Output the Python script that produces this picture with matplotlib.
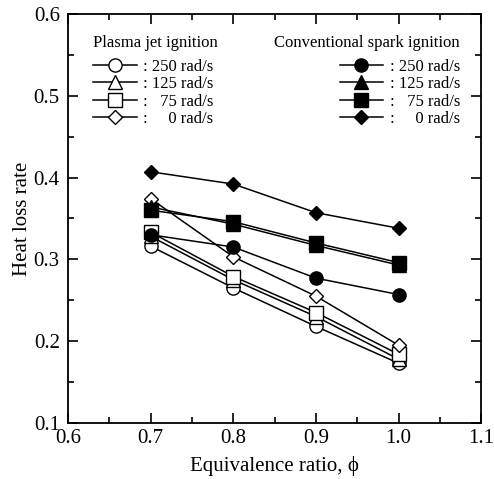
import matplotlib.pyplot as plt
import numpy as np

# equivalence ratio values and heat loss rates
phi = [0.7, 0.8, 0.9, 1.0]

# plasma jet ignition (open markers)
pj_250 = [0.316, 0.265, 0.218, 0.173]
pj_125 = [0.328, 0.275, 0.230, 0.178]
pj_75 = [0.333, 0.279, 0.235, 0.184]
pj_0 = [0.374, 0.303, 0.255, 0.195]

# conventional spark ignition (filled markers)
cs_250 = [0.330, 0.315, 0.277, 0.257]
cs_125 = [0.364, 0.343, 0.317, 0.293]
cs_75 = [0.360, 0.346, 0.320, 0.296]
cs_0 = [0.407, 0.392, 0.357, 0.338]

labels = [': 250 rad/s', ': 125 rad/s', ':   75 rad/s', ':     0 rad/s']
markers = ['o', '^', 's', 'D']

plt.rcParams['font.family'] = ['Liberation Serif', 'DejaVu Serif']

fig = plt.figure(figsize=(4.94, 4.79), dpi=100)
ax = fig.add_axes([0.138, 0.117, 0.836, 0.854])

pj_lines = []
for vals, m, lab in zip([pj_250, pj_125, pj_75, pj_0], markers, labels):
    ms = 7.5 if m == 'D' else 9.5
    l, = ax.plot(phi, vals, color='black', lw=1.1, marker=m, ms=ms,
                 mfc='white', mec='black', mew=1.0, label=lab)
    pj_lines.append(l)

cs_lines = []
for vals, m, lab in zip([cs_250, cs_125, cs_75, cs_0], markers, labels):
    ms = 7.5 if m == 'D' else 9.5
    l, = ax.plot(phi, vals, color='black', lw=1.1, marker=m, ms=ms,
                 mfc='black', mec='black', label=lab)
    cs_lines.append(l)

ax.set_xlim(0.6, 1.1)
ax.set_ylim(0.1, 0.6)
ax.set_xticks(np.arange(0.6, 1.11, 0.1))
ax.set_xticks(np.arange(0.65, 1.1, 0.1), minor=True)
ax.set_yticks(np.arange(0.1, 0.61, 0.1))
ax.set_yticks(np.arange(0.15, 0.6, 0.1), minor=True)
ax.set_xticklabels(['0.6', '0.7', '0.8', '0.9', '1.0', '1.1'])
ax.set_yticklabels(['0.1', '0.2', '0.3', '0.4', '0.5', '0.6'])
ax.tick_params(which='both', direction='in', top=True, right=True,
               labelsize=15, width=1.2)
ax.tick_params(which='major', length=7)
ax.tick_params(which='minor', length=4)
ax.tick_params(axis='x', pad=4)
ax.tick_params(axis='y', pad=6)
for s in ax.spines.values():
    s.set_linewidth(1.3)

ax.set_xlabel('Equivalence ratio, \u03d5', fontsize=15, labelpad=6)
ax.set_ylabel('Heat loss rate', fontsize=15, labelpad=1)

# legend titles as plain text, legends below them
ax.text(0.061, 0.929, 'Plasma jet ignition', transform=ax.transAxes,
        fontsize=12, ha='left', va='center')
ax.text(0.949, 0.929, 'Conventional spark ignition', transform=ax.transAxes,
        fontsize=12, ha='right', va='center')

leg1 = ax.legend(handles=pj_lines, loc='upper left',
                 bbox_to_anchor=(0.061, 0.89), frameon=False, fontsize=12,
                 handlelength=2.6, handletextpad=0.4, borderpad=0,
                 labelspacing=0.08, borderaxespad=0)
ax.add_artist(leg1)

leg2 = ax.legend(handles=cs_lines, loc='upper right',
                 bbox_to_anchor=(0.949, 0.89), frameon=False, fontsize=12,
                 handlelength=2.6, handletextpad=0.4, borderpad=0,
                 labelspacing=0.08, borderaxespad=0)

fig.savefig('out.png', dpi=100)
